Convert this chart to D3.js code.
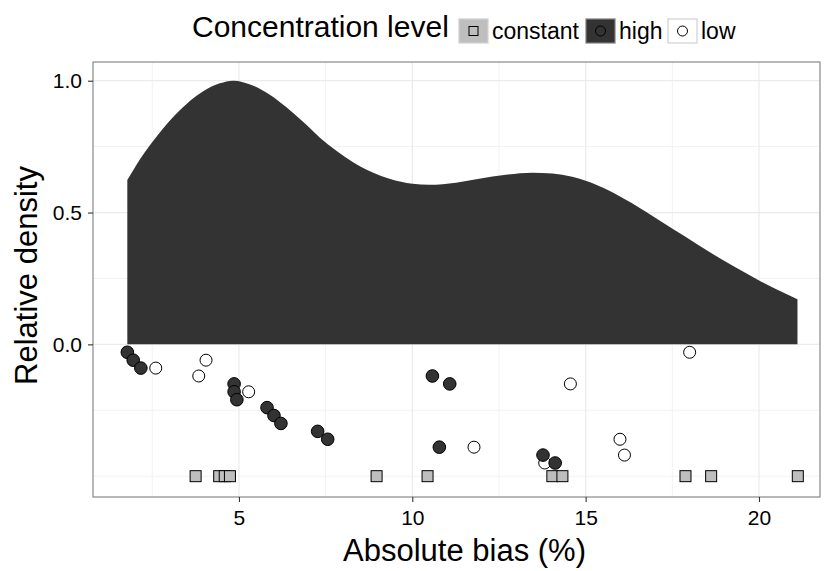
<!DOCTYPE html>
<html>
<head>
<meta charset="utf-8">
<script src="https://cdn.jsdelivr.net/npm/d3@7"></script>
<style>
  html, body { margin: 0; padding: 0; background: #ffffff; }
  svg { display: block; font-family: "Liberation Sans", Arial, Helvetica, sans-serif; }
</style>
</head>
<body>
<svg id="chart" width="825" height="571"></svg>
<script>
// Kernel density of absolute bias, scaled so the peak equals 1
const densityX = [1.78, 2.05, 2.53, 3.01, 3.49, 3.97, 4.45, 4.83, 5.40, 5.89, 6.37, 6.84, 7.32, 7.80,
  8.28, 8.86, 9.34, 10.01, 10.49, 11.26, 11.93, 12.70, 13.46, 14.04, 14.61, 15.00, 15.67, 16.34,
  17.11, 17.88, 18.55, 19.32, 19.99, 20.56, 21.11];
const densityY = [0.623, 0.682, 0.772, 0.849, 0.912, 0.960, 0.990, 1.000, 0.982, 0.947, 0.899, 0.845,
  0.786, 0.735, 0.692, 0.652, 0.628, 0.609, 0.605, 0.613, 0.628, 0.643, 0.651, 0.648, 0.636, 0.621,
  0.584, 0.535, 0.472, 0.408, 0.352, 0.292, 0.243, 0.205, 0.171];

// Individual results by concentration level
const constantX = [3.75, 4.43, 4.59, 4.74, 8.97, 10.44, 14.04, 14.33, 17.88, 18.62, 21.12];
const constantY = [-0.5, -0.5, -0.5, -0.5, -0.5, -0.5, -0.5, -0.5, -0.5, -0.5, -0.5];
const highX = [1.78, 1.95, 2.17, 4.86, 4.86, 4.94, 5.81, 6.01, 6.21, 7.27, 7.56, 10.58, 11.08, 10.78, 13.77, 14.12];
const highY = [-0.03, -0.06, -0.09, -0.15, -0.18, -0.21, -0.24, -0.27, -0.30, -0.33, -0.36, -0.12, -0.15, -0.39, -0.42, -0.45];
const lowX = [2.60, 3.84, 4.05, 5.28, 18.00, 14.56, 11.78, 13.82, 15.99, 16.12];
const lowY = [-0.09, -0.12, -0.06, -0.18, -0.03, -0.15, -0.39, -0.45, -0.36, -0.42];

const levels = ["constant", "high", "low"];
const levelFill = { constant: "#bebebe", high: "#333333", low: "#ffffff" };

const xTicks = [5, 10, 15, 20];
const xMinor = [2.5, 7.5, 12.5, 17.5];
const yTicks = [0, 0.5, 1.0];
const yMinor = [-0.5, -0.25, 0.25, 0.75];

const panel = { left: 93, right: 820, top: 62, bottom: 497 };

const svg = d3.select("#chart");

const x = d3.scaleLinear().domain([0.79, 21.76]).range([panel.left, panel.right]);
const y = d3.scaleLinear().domain([-0.579, 1.071]).range([panel.bottom, panel.top]);

const plot = svg.append("g");

// grid
plot.append("rect")
  .attr("x", panel.left).attr("y", panel.top)
  .attr("width", panel.right - panel.left).attr("height", panel.bottom - panel.top)
  .attr("fill", "#ffffff");

plot.selectAll("line.xminor").data(xMinor).enter().append("line")
  .attr("x1", d => x(d)).attr("x2", d => x(d))
  .attr("y1", panel.top).attr("y2", panel.bottom)
  .attr("stroke", "#f2f2f2").attr("stroke-width", 1);
plot.selectAll("line.yminor").data(yMinor).enter().append("line")
  .attr("y1", d => y(d)).attr("y2", d => y(d))
  .attr("x1", panel.left).attr("x2", panel.right)
  .attr("stroke", "#f2f2f2").attr("stroke-width", 1);
plot.selectAll("line.xmajor").data(xTicks).enter().append("line")
  .attr("x1", d => x(d)).attr("x2", d => x(d))
  .attr("y1", panel.top).attr("y2", panel.bottom)
  .attr("stroke", "#ebebeb").attr("stroke-width", 1.2);
plot.selectAll("line.ymajor").data(yTicks).enter().append("line")
  .attr("y1", d => y(d)).attr("y2", d => y(d))
  .attr("x1", panel.left).attr("x2", panel.right)
  .attr("stroke", "#ebebeb").attr("stroke-width", 1.2);

// density area
const densityData = densityX.map((d, i) => ({ x: d, y: densityY[i] }));
const area = d3.area()
  .x(d => x(d.x))
  .y0(y(0))
  .y1(d => y(d.y))
  .curve(d3.curveMonotoneX);
plot.append("path")
  .datum(densityData)
  .attr("d", area)
  .attr("fill", "#333333");

// points
const sq = 11;
plot.selectAll("rect.constant").data(constantX.map((d, i) => ({ x: d, y: constantY[i] })))
  .enter().append("rect")
  .attr("x", d => x(d.x) - sq / 2).attr("y", d => y(d.y) - sq / 2)
  .attr("width", sq).attr("height", sq)
  .attr("fill", levelFill.constant).attr("stroke", "#000").attr("stroke-width", 1);

plot.selectAll("circle.low").data(lowX.map((d, i) => ({ x: d, y: lowY[i] })))
  .enter().append("circle")
  .attr("cx", d => x(d.x)).attr("cy", d => y(d.y)).attr("r", 6)
  .attr("fill", levelFill.low).attr("stroke", "#000").attr("stroke-width", 1);

plot.selectAll("circle.high").data(highX.map((d, i) => ({ x: d, y: highY[i] })))
  .enter().append("circle")
  .attr("cx", d => x(d.x)).attr("cy", d => y(d.y)).attr("r", 6.3)
  .attr("fill", levelFill.high).attr("stroke", "#000").attr("stroke-width", 1);

// panel border
plot.append("rect")
  .attr("x", panel.left).attr("y", panel.top)
  .attr("width", panel.right - panel.left).attr("height", panel.bottom - panel.top)
  .attr("fill", "none").attr("stroke", "#7f7f7f").attr("stroke-width", 1.1);

// axes
const xAxis = d3.axisBottom(x).tickValues(xTicks).tickFormat(d3.format("d")).tickSizeOuter(0).tickSize(5).tickPadding(8);
const yAxis = d3.axisLeft(y).tickValues(yTicks).tickFormat(d3.format(".1f")).tickSizeOuter(0).tickSize(5).tickPadding(6);

const gx = svg.append("g").attr("transform", `translate(0,${panel.bottom})`).call(xAxis);
const gy = svg.append("g").attr("transform", `translate(${panel.left},0)`).call(yAxis);
[gx, gy].forEach(g => {
  g.select(".domain").remove();
  g.selectAll(".tick line").attr("stroke", "#333333").attr("stroke-width", 1.1);
  g.selectAll(".tick text").attr("fill", "#000").attr("font-size", 21)
    .attr("font-family", "'Liberation Sans', Arial, sans-serif");
});

// axis titles
svg.append("text")
  .attr("x", (panel.left + panel.right) / 2 + 8).attr("y", 561)
  .attr("text-anchor", "middle").attr("font-size", 31).attr("fill", "#000")
  .text("Absolute bias (%)");
svg.append("text")
  .attr("transform", `translate(37,${(panel.top + panel.bottom) / 2 - 4}) rotate(-90)`)
  .attr("text-anchor", "middle").attr("font-size", 31).attr("fill", "#000")
  .text("Relative density");

// legend
const legend = svg.append("g");
legend.append("text")
  .attr("x", 192).attr("y", 37)
  .attr("font-size", 30).attr("fill", "#000")
  .text("Concentration level");

const keyX = { constant: 459, high: 586, low: 668 };
const keyW = 29, keyH = 24, keyTop = 19;
levels.forEach(lv => {
  const kx = keyX[lv];
  legend.append("rect")
    .attr("x", kx).attr("y", keyTop).attr("width", keyW).attr("height", keyH)
    .attr("fill", levelFill[lv])
    .attr("stroke", lv === "high" ? "#7f7f7f" : "#d0d0d0").attr("stroke-width", 1.2);
  const cx = kx + keyW / 2, cy = keyTop + keyH / 2;
  if (lv === "constant") {
    legend.append("rect")
      .attr("x", cx - 4.5).attr("y", cy - 4.5).attr("width", 9).attr("height", 9)
      .attr("fill", levelFill[lv]).attr("stroke", "#000").attr("stroke-width", 1);
  } else {
    legend.append("circle")
      .attr("cx", cx).attr("cy", cy).attr("r", 5)
      .attr("fill", levelFill[lv]).attr("stroke", "#000").attr("stroke-width", 1);
  }
  legend.append("text")
    .attr("x", kx + keyW + 4).attr("y", 39)
    .attr("font-size", 23).attr("fill", "#000")
    .text(lv);
});
</script>
</body>
</html>
